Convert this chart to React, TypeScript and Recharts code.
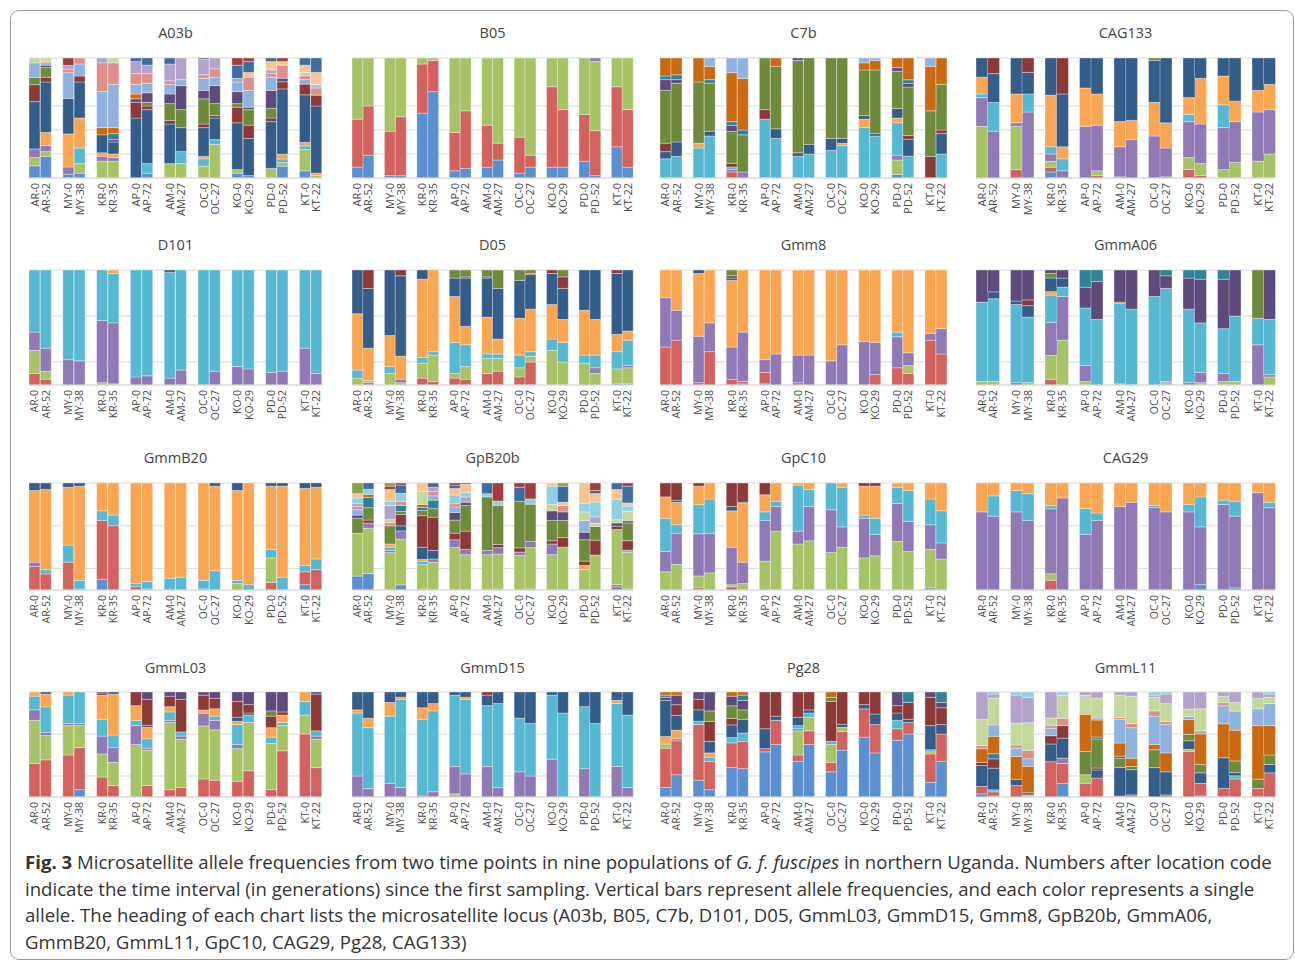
import React from "react";
import { BarChart, Bar, XAxis, YAxis, CartesianGrid } from "recharts";

// sample labels: location code + generations since first sampling
const POPULATIONS = [
  "AR-0", "AR-52", "MY-0", "MY-38", "KR-0", "KR-35", "AP-0", "AP-72", "AM-0",
  "AM-27", "OC-0", "OC-27", "KO-0", "KO-29", "PD-0", "PD-52", "KT-0", "KT-22",
];

// allele colours in stacking order (allele 1 at the bottom of each bar)
const ALLELE_COLORS = [
  "#5B8FCF", "#D2625D", "#A6C467", "#9079B4", "#57B8D1", "#F9A551",
  "#345E89", "#8C3A37", "#6E8A3D", "#5E4B7C", "#2F8298", "#C96A12",
  "#8FB2DE", "#DF8F8B", "#C4D89C", "#B3A2CC", "#8FD0E1", "#FBC391",
  "#3D6C9F", "#A23F3B", "#86A348",
];

// allele frequencies (%) per sample, one row per bar, columns = alleles
const A03b = [
  [10, 0, 7, 7, 0, 0, 39, 14, 6, 0, 0, 0, 12, 0, 4, 0, 0, 0, 0, 0],
  [18, 0, 4, 5, 0, 11, 42, 4, 8, 2, 0, 0, 2, 1, 3, 0, 0, 0, 0, 0],
  [3, 0, 0, 6, 0, 27, 29, 0, 0, 0, 0, 0, 21, 3, 0, 3, 0, 0, 0, 6],
  [4, 0, 8, 0, 13, 25, 30, 5, 0, 0, 0, 0, 10, 5, 0, 0, 0, 0, 0, 0],
  [0, 0, 14, 4, 0, 3, 15, 0, 0, 0, 0, 6, 30, 24, 0, 4, 0, 0, 0, 0],
  [0, 0, 14, 3, 0, 3, 10, 0, 0, 2, 5, 5, 36, 18, 4, 0, 0, 0, 0, 0],
  [0, 0, 0, 0, 0, 0, 50, 13, 0, 3, 0, 4, 8, 9, 0, 10, 0, 0, 3, 0],
  [4, 0, 0, 0, 8, 0, 45, 3, 3, 8, 0, 0, 8, 8, 0, 7, 0, 0, 6, 0],
  [0, 0, 12, 0, 0, 0, 33, 3, 14, 8, 0, 0, 8, 3, 0, 14, 0, 0, 5, 0],
  [0, 0, 12, 0, 10, 0, 20, 0, 15, 20, 0, 0, 5, 0, 0, 18, 0, 0, 0, 0],
  [0, 0, 10, 0, 6, 2, 24, 3, 21, 7, 0, 0, 10, 3, 0, 13, 0, 0, 1, 0],
  [0, 0, 28, 0, 4, 0, 18, 2, 10, 15, 0, 0, 7, 7, 0, 9, 0, 0, 0, 0],
  [4, 0, 3, 0, 0, 0, 39, 13, 3, 10, 0, 0, 8, 0, 0, 3, 0, 0, 11, 6],
  [2, 0, 0, 0, 0, 0, 31, 11, 13, 2, 0, 0, 14, 11, 0, 0, 0, 4, 9, 3],
  [0, 0, 8, 0, 0, 0, 39, 3, 8, 15, 0, 0, 11, 3, 0, 3, 0, 7, 3, 0],
  [10, 0, 3, 0, 3, 4, 55, 6, 0, 3, 0, 0, 0, 11, 0, 0, 0, 3, 0, 3],
  [6, 0, 18, 0, 3, 3, 40, 9, 0, 0, 0, 0, 4, 3, 3, 0, 0, 6, 6, 0],
  [0, 0, 2, 0, 0, 2, 56, 9, 0, 0, 0, 0, 0, 6, 0, 0, 3, 10, 12, 0],
];

const B05 = [
  [9, 40, 51, 0], [19, 41, 40, 0], [2, 37, 61, 0], [2, 49, 49, 0],
  [54, 41, 5, 0], [72, 26, 2, 0], [6, 32, 62, 0], [8, 48, 44, 0],
  [9, 35, 56, 0], [15, 14, 71, 0], [4, 30, 66, 0], [9, 10, 81, 0],
  [9, 67, 24, 0], [9, 48, 43, 0], [14, 39, 47, 0], [2, 37, 57, 3],
  [26, 50, 24, 0], [9, 48, 43, 0],
];

const C7b = [
  [0, 0, 0, 0, 16, 0, 6, 7, 44, 9, 3, 15, 0],
  [0, 0, 0, 0, 18, 0, 12, 0, 49, 3, 4, 14, 0],
  [0, 0, 0, 0, 25, 4, 0, 0, 51, 0, 0, 20, 0],
  [0, 0, 0, 0, 35, 0, 4, 0, 40, 0, 3, 11, 7],
  [0, 5, 0, 2, 2, 0, 0, 3, 26, 5, 3, 40, 12],
  [0, 0, 0, 5, 0, 0, 0, 0, 31, 0, 4, 43, 17],
  [0, 0, 0, 0, 49, 0, 0, 8, 43, 0, 0, 0, 0],
  [0, 0, 0, 0, 33, 0, 8, 0, 52, 0, 0, 7, 0],
  [0, 0, 0, 0, 18, 0, 3, 0, 77, 2, 0, 0, 0],
  [0, 0, 0, 0, 20, 0, 8, 0, 72, 0, 0, 0, 0],
  [0, 0, 0, 0, 23, 0, 10, 0, 67, 0, 0, 0, 0],
  [0, 0, 0, 0, 27, 2, 4, 0, 67, 0, 0, 0, 0],
  [0, 0, 0, 0, 42, 7, 3, 0, 38, 0, 0, 6, 4],
  [0, 0, 0, 0, 35, 0, 2, 0, 53, 0, 0, 8, 2],
  [3, 0, 12, 4, 27, 4, 8, 0, 31, 3, 0, 8, 0],
  [0, 0, 0, 0, 18, 0, 14, 3, 40, 3, 3, 18, 0],
  [0, 0, 0, 0, 0, 0, 0, 18, 38, 0, 0, 37, 7],
  [0, 0, 0, 0, 20, 0, 17, 3, 38, 0, 0, 22, 0],
];

const CAG133 = [
  [0, 0, 43, 24, 3, 14, 16, 0, 0], [0, 0, 0, 39, 24, 0, 24, 13, 0],
  [0, 7, 36, 3, 0, 24, 30, 0, 0], [0, 0, 0, 55, 15, 0, 18, 12, 0],
  [5, 4, 5, 6, 6, 43, 31, 0, 0], [0, 0, 0, 6, 10, 10, 44, 30, 0],
  [0, 0, 0, 43, 0, 32, 25, 0, 0], [0, 2, 4, 38, 0, 26, 30, 0, 0],
  [0, 1, 0, 25, 0, 21, 53, 0, 0], [0, 0, 0, 32, 0, 16, 52, 0, 0],
  [0, 0, 0, 35, 0, 28, 35, 0, 2], [0, 1, 0, 24, 0, 21, 54, 0, 0],
  [0, 7, 10, 30, 6, 14, 33, 0, 0], [0, 2, 10, 33, 0, 38, 17, 0, 0],
  [0, 0, 7, 35, 19, 24, 15, 0, 0], [0, 0, 13, 34, 0, 17, 36, 0, 0],
  [0, 0, 14, 41, 0, 18, 27, 0, 0], [0, 0, 20, 37, 0, 21, 22, 0, 0],
];

const D101 = [
  [0, 10, 20, 16, 54, 0, 0], [0, 5, 7, 20, 68, 0, 0], [0, 0, 0, 22, 78, 0, 0],
  [0, 0, 0, 21, 79, 0, 0], [0, 0, 2, 54, 44, 0, 0], [0, 0, 1, 53, 43, 3, 0],
  [0, 0, 0, 7, 93, 0, 0], [0, 0, 0, 8, 92, 0, 0], [0, 0, 0, 6, 92, 0, 2],
  [0, 0, 0, 13, 87, 0, 0], [0, 0, 0, 0, 100, 0, 0], [0, 0, 0, 12, 88, 0, 0],
  [0, 0, 0, 16, 84, 0, 0], [0, 0, 0, 14, 86, 0, 0], [0, 0, 0, 11, 89, 0, 0],
  [0, 0, 0, 12, 88, 0, 0], [0, 0, 0, 32, 68, 0, 0], [0, 0, 0, 10, 90, 0, 0],
];

const D05 = [
  [0, 0, 6, 0, 7, 49, 38, 0, 0], [0, 2, 2, 0, 0, 28, 52, 16, 0],
  [0, 0, 10, 0, 6, 27, 57, 0, 0], [0, 0, 2, 3, 0, 20, 70, 5, 0],
  [0, 6, 13, 0, 5, 68, 8, 0, 0], [0, 3, 23, 0, 3, 71, 0, 0, 0],
  [0, 6, 4, 0, 27, 40, 16, 0, 7], [0, 5, 11, 0, 19, 16, 42, 1, 6],
  [0, 10, 13, 0, 4, 32, 34, 1, 6], [0, 12, 11, 0, 4, 13, 44, 0, 16],
  [0, 7, 8, 0, 11, 32, 33, 0, 9], [0, 20, 5, 0, 4, 37, 30, 1, 3],
  [0, 0, 30, 0, 10, 30, 27, 3, 0], [0, 0, 20, 0, 17, 20, 27, 10, 6],
  [0, 0, 19, 0, 7, 39, 35, 0, 0], [0, 0, 10, 5, 11, 31, 43, 0, 0],
  [1, 0, 13, 0, 15, 15, 53, 3, 0], [1, 0, 14, 2, 22, 8, 53, 0, 0],
];

const Gmm8 = [
  [0, 33, 0, 43, 0, 24, 0, 0, 0], [0, 39, 0, 26, 0, 35, 0, 0, 0],
  [0, 2, 0, 40, 0, 54, 3, 0, 0], [0, 29, 0, 25, 0, 46, 0, 0, 0],
  [0, 5, 0, 28, 0, 58, 2, 2, 5], [1, 2, 0, 43, 0, 54, 0, 0, 0],
  [1, 10, 0, 11, 0, 78, 0, 0, 0], [0, 0, 0, 27, 0, 73, 0, 0, 0],
  [0, 2, 0, 24, 0, 74, 0, 0, 0], [0, 0, 0, 26, 0, 74, 0, 0, 0],
  [0, 0, 0, 21, 0, 79, 0, 0, 0], [0, 0, 0, 35, 0, 65, 0, 0, 0],
  [0, 0, 0, 38, 0, 62, 0, 0, 0], [0, 9, 0, 28, 0, 63, 0, 0, 0],
  [0, 15, 0, 27, 4, 54, 0, 0, 0], [0, 10, 7, 11, 0, 72, 0, 0, 0],
  [0, 39, 0, 6, 0, 55, 0, 0, 0], [0, 27, 0, 22, 0, 51, 0, 0, 0],
];

const GmmA06 = [
  [0, 0, 3, 0, 69, 0, 0, 0, 0, 28, 0], [0, 0, 3, 0, 72, 0, 6, 0, 0, 19, 0],
  [0, 0, 0, 2, 68, 0, 3, 0, 0, 27, 0], [0, 0, 2, 0, 57, 0, 10, 5, 0, 26, 0],
  [0, 5, 21, 29, 24, 3, 12, 0, 4, 3, 0], [0, 0, 39, 38, 8, 0, 8, 0, 0, 7, 0],
  [0, 0, 3, 14, 50, 0, 0, 0, 0, 18, 15], [0, 0, 0, 0, 57, 0, 0, 0, 0, 33, 10],
  [0, 0, 1, 0, 70, 0, 0, 0, 1, 28, 0], [0, 0, 0, 0, 66, 0, 0, 0, 0, 34, 0],
  [0, 0, 0, 0, 77, 0, 0, 0, 0, 23, 0], [0, 0, 2, 1, 81, 0, 0, 0, 0, 11, 5],
  [0, 0, 0, 2, 64, 0, 0, 0, 0, 27, 7], [0, 0, 2, 9, 43, 0, 0, 0, 0, 38, 8],
  [0, 0, 3, 7, 39, 0, 0, 0, 0, 43, 8], [0, 0, 3, 0, 57, 0, 0, 0, 0, 40, 0],
  [0, 0, 0, 35, 23, 0, 0, 0, 42, 0, 0], [0, 0, 7, 2, 48, 0, 0, 0, 0, 43, 0],
];

const GmmB20 = [
  [0, 22, 0, 4, 0, 67, 7], [0, 15, 0, 0, 4, 75, 6], [0, 26, 0, 0, 16, 54, 4],
  [0, 1, 0, 0, 8, 88, 3], [10, 55, 0, 0, 9, 26, 0], [0, 60, 0, 0, 10, 30, 0],
  [0, 3, 0, 0, 3, 94, 0], [0, 1, 0, 0, 7, 92, 0], [0, 0, 0, 0, 11, 89, 0],
  [0, 0, 0, 0, 12, 88, 0], [0, 1, 0, 0, 8, 91, 0], [0, 0, 0, 0, 18, 79, 3],
  [0, 0, 6, 0, 3, 84, 7], [0, 0, 0, 0, 5, 95, 0], [0, 7, 23, 0, 8, 59, 3],
  [0, 0, 0, 0, 12, 85, 3], [5, 12, 0, 0, 6, 72, 5], [0, 19, 0, 0, 10, 67, 4],
];

const GpB20b = [
  [13, 0, 40, 0, 0, 0, 0, 0, 14, 3, 0, 0, 5, 3, 0, 3, 5, 4, 0, 0, 10],
  [16, 0, 44, 5, 0, 0, 0, 3, 12, 0, 10, 3, 0, 0, 0, 0, 5, 0, 6, 0, 0],
  [0, 0, 35, 2, 3, 3, 0, 0, 17, 0, 0, 0, 0, 3, 3, 13, 4, 11, 0, 3, 3],
  [5, 0, 45, 8, 0, 0, 5, 11, 3, 0, 6, 0, 0, 4, 0, 0, 8, 0, 8, 2, 0],
  [1, 0, 24, 0, 3, 2, 12, 31, 5, 0, 3, 3, 0, 0, 13, 0, 0, 8, 0, 0, 0],
  [0, 0, 26, 3, 0, 0, 8, 31, 8, 0, 8, 0, 4, 4, 0, 4, 0, 0, 4, 0, 0],
  [0, 0, 39, 7, 0, 0, 0, 6, 12, 7, 0, 0, 5, 3, 0, 0, 8, 6, 3, 2, 0],
  [0, 0, 33, 5, 0, 0, 0, 17, 24, 3, 0, 0, 0, 0, 0, 5, 4, 8, 1, 0, 0],
  [0, 0, 33, 4, 0, 0, 0, 0, 50, 0, 0, 0, 0, 0, 0, 0, 3, 0, 10, 0, 0],
  [1, 0, 33, 6, 0, 0, 0, 3, 37, 0, 0, 0, 0, 0, 0, 0, 4, 0, 0, 17, 0],
  [0, 0, 32, 3, 0, 0, 0, 4, 43, 0, 0, 0, 0, 0, 0, 0, 0, 0, 13, 4, 0],
  [1, 0, 39, 6, 0, 0, 0, 0, 35, 0, 0, 0, 0, 0, 0, 0, 5, 0, 0, 15, 0],
  [0, 0, 33, 10, 0, 0, 0, 3, 19, 9, 0, 0, 0, 0, 6, 0, 17, 3, 0, 0, 0],
  [0, 0, 40, 0, 0, 0, 0, 9, 16, 8, 0, 0, 0, 6, 0, 0, 0, 3, 15, 0, 3],
  [0, 0, 19, 0, 0, 4, 0, 4, 20, 7, 0, 0, 11, 0, 8, 0, 8, 19, 0, 0, 0],
  [0, 0, 33, 0, 0, 0, 0, 14, 13, 0, 0, 0, 0, 0, 3, 6, 14, 8, 3, 7, 0],
  [3, 2, 51, 0, 0, 0, 0, 3, 0, 3, 0, 0, 0, 0, 3, 0, 19, 9, 6, 0, 0],
  [1, 0, 35, 0, 2, 0, 0, 9, 17, 2, 0, 0, 0, 0, 9, 0, 5, 3, 16, 3, 0],
];

const GpC10 = [
  [0, 0, 17, 19, 31, 20, 0, 13], [0, 0, 24, 29, 8, 21, 2, 16],
  [0, 2, 11, 39, 27, 17, 0, 3], [0, 0, 16, 37, 32, 15, 0, 0],
  [0, 3, 2, 35, 0, 34, 4, 22], [0, 0, 6, 20, 0, 55, 1, 18],
  [0, 0, 27, 38, 8, 16, 0, 11], [0, 0, 55, 23, 5, 17, 0, 0],
  [0, 0, 43, 12, 43, 2, 0, 0], [0, 0, 46, 32, 16, 6, 0, 0],
  [0, 0, 35, 40, 25, 0, 0, 0], [0, 0, 40, 19, 37, 4, 0, 0],
  [0, 0, 30, 37, 3, 27, 0, 3], [0, 0, 32, 20, 15, 30, 0, 3],
  [0, 0, 45, 35, 15, 4, 0, 0], [0, 0, 36, 28, 29, 7, 0, 0],
  [2, 0, 36, 23, 24, 15, 0, 0], [0, 0, 29, 15, 30, 26, 0, 0],
];

const CAG29 = [
  [0, 0, 0, 73, 0, 27], [0, 0, 0, 69, 19, 12], [0, 0, 0, 73, 20, 7],
  [0, 0, 0, 65, 25, 10], [0, 9, 6, 60, 3, 21], [0, 0, 0, 86, 0, 14],
  [0, 0, 0, 52, 24, 24], [0, 0, 0, 65, 7, 28], [0, 0, 0, 78, 0, 22],
  [0, 0, 0, 82, 0, 18], [0, 0, 0, 77, 2, 21], [0, 0, 0, 73, 0, 27],
  [0, 0, 0, 73, 7, 20], [5, 0, 0, 54, 28, 13], [0, 0, 0, 80, 4, 16],
  [2, 0, 0, 67, 14, 17], [0, 0, 0, 91, 0, 9], [0, 0, 0, 77, 5, 18],
];

const GmmL03 = [
  [0, 32, 41, 10, 13, 4, 0, 0, 0, 0], [0, 35, 23, 3, 24, 12, 2, 0, 0, 0],
  [0, 40, 28, 2, 27, 3, 0, 0, 0, 0], [7, 40, 21, 2, 30, 0, 0, 0, 0, 0],
  [0, 19, 22, 17, 16, 23, 0, 2, 0, 1], [0, 11, 22, 14, 12, 39, 2, 0, 0, 0],
  [0, 0, 50, 18, 5, 14, 0, 13, 0, 0], [0, 11, 34, 2, 9, 11, 2, 25, 0, 7],
  [0, 7, 64, 2, 8, 5, 0, 10, 0, 4], [0, 9, 46, 3, 4, 0, 0, 31, 0, 7],
  [0, 17, 50, 12, 0, 3, 0, 14, 0, 3], [0, 16, 48, 9, 4, 7, 0, 10, 0, 6],
  [0, 15, 31, 4, 19, 3, 4, 15, 0, 9], [0, 25, 46, 0, 7, 0, 2, 8, 0, 12],
  [0, 7, 44, 0, 6, 9, 0, 11, 5, 18], [0, 44, 24, 0, 3, 7, 0, 3, 0, 19],
  [0, 60, 18, 0, 13, 9, 0, 0, 0, 0], [0, 28, 27, 3, 5, 0, 0, 35, 0, 2],
];

const GmmD15 = [
  [0, 0, 0, 20, 60, 3, 17, 0], [0, 0, 0, 8, 58, 9, 25, 0],
  [0, 0, 0, 13, 64, 13, 10, 0], [0, 0, 0, 9, 84, 2, 5, 0],
  [0, 0, 0, 1, 73, 11, 15, 0], [0, 0, 0, 5, 77, 7, 11, 0],
  [0, 0, 3, 26, 68, 0, 3, 0], [0, 0, 0, 22, 71, 2, 5, 0],
  [0, 0, 0, 29, 58, 0, 10, 3], [0, 0, 0, 9, 80, 0, 11, 0],
  [0, 0, 0, 24, 51, 0, 25, 0], [0, 0, 0, 20, 50, 0, 30, 0],
  [0, 0, 0, 36, 61, 0, 3, 0], [0, 0, 0, 0, 80, 0, 20, 0],
  [0, 0, 0, 27, 59, 0, 14, 0], [0, 0, 0, 0, 70, 0, 30, 0],
  [0, 0, 0, 29, 60, 3, 8, 0], [0, 0, 0, 9, 69, 0, 22, 0],
];

const Pg28 = [
  [9, 37, 4, 0, 0, 7, 34, 0, 0, 3, 2, 3],
  [21, 32, 0, 2, 0, 8, 14, 10, 0, 9, 0, 3],
  [16, 53, 0, 0, 3, 0, 11, 10, 0, 7, 0, 0],
  [7, 27, 0, 0, 4, 4, 11, 19, 10, 18, 0, 0],
  [28, 23, 0, 0, 5, 0, 12, 6, 12, 9, 0, 4],
  [27, 26, 0, 0, 8, 0, 13, 0, 9, 9, 5, 3],
  [43, 3, 0, 0, 0, 0, 19, 35, 0, 0, 0, 0],
  [50, 23, 0, 0, 0, 0, 4, 23, 0, 0, 0, 0],
  [34, 6, 23, 2, 3, 0, 8, 24, 0, 0, 0, 0],
  [50, 13, 13, 0, 4, 0, 3, 17, 0, 0, 0, 0],
  [24, 9, 17, 0, 3, 0, 0, 38, 4, 0, 0, 5],
  [45, 18, 4, 0, 0, 0, 3, 31, 0, 0, 0, 0],
  [57, 27, 0, 0, 0, 0, 4, 12, 0, 0, 0, 0],
  [42, 27, 0, 0, 0, 0, 10, 21, 0, 0, 0, 0],
  [54, 11, 0, 0, 8, 0, 7, 7, 0, 13, 0, 0],
  [60, 11, 0, 0, 0, 0, 3, 16, 0, 0, 10, 0],
  [14, 27, 2, 0, 2, 0, 23, 27, 0, 5, 0, 0],
  [34, 26, 0, 0, 0, 0, 9, 16, 0, 5, 10, 0],
];

const GmmL11 = [
  [3, 7, 0, 0, 0, 0, 20, 3, 0, 0, 0, 13, 0, 3, 25, 26, 0],
  [1, 4, 0, 0, 2, 0, 21, 9, 0, 0, 5, 17, 11, 0, 26, 4, 2],
  [0, 11, 0, 0, 0, 0, 6, 0, 0, 0, 0, 22, 8, 3, 21, 27, 3],
  [0, 0, 0, 0, 0, 2, 2, 0, 0, 0, 0, 25, 7, 8, 26, 24, 5],
  [0, 34, 0, 0, 0, 0, 17, 8, 0, 0, 0, 0, 7, 3, 7, 25, 0],
  [13, 19, 0, 5, 0, 0, 19, 12, 0, 0, 0, 0, 0, 7, 22, 0, 3],
  [0, 13, 8, 0, 0, 0, 0, 0, 22, 0, 0, 35, 0, 0, 18, 3, 0],
  [0, 19, 0, 0, 0, 0, 8, 2, 29, 0, 2, 17, 2, 0, 20, 6, 0],
  [0, 0, 0, 1, 0, 0, 28, 0, 9, 2, 0, 13, 23, 2, 22, 3, 0],
  [0, 0, 0, 2, 0, 0, 24, 0, 3, 0, 0, 8, 29, 4, 26, 4, 0],
  [0, 0, 0, 0, 0, 0, 28, 0, 17, 0, 0, 5, 27, 5, 13, 2, 3],
  [0, 2, 0, 0, 0, 0, 22, 0, 0, 0, 0, 18, 27, 3, 17, 9, 2],
  [0, 43, 2, 0, 0, 0, 8, 0, 6, 0, 0, 14, 3, 0, 7, 16, 0],
  [1, 12, 0, 0, 0, 0, 10, 0, 8, 0, 0, 29, 3, 0, 21, 16, 0],
  [0, 8, 0, 0, 0, 0, 29, 0, 0, 0, 0, 32, 17, 3, 6, 4, 0],
  [0, 17, 0, 0, 3, 0, 3, 0, 11, 0, 0, 29, 18, 0, 8, 10, 0],
  [0, 8, 0, 0, 0, 0, 0, 0, 9, 0, 0, 51, 16, 0, 10, 6, 0],
  [0, 23, 0, 0, 0, 0, 8, 0, 9, 0, 0, 28, 21, 0, 6, 3, 2],
];

const LOCI_GRID: [string, number[][]][][] = [
  [["A03b", A03b], ["B05", B05], ["C7b", C7b], ["CAG133", CAG133]],
  [["D101", D101], ["D05", D05], ["Gmm8", Gmm8], ["GmmA06", GmmA06]],
  [["GmmB20", GmmB20], ["GpB20b", GpB20b], ["GpC10", GpC10], ["CAG29", CAG29]],
  [["GmmL03", GmmL03], ["GmmD15", GmmD15], ["Pg28", Pg28], ["GmmL11", GmmL11]],
];

// panel layout (plot area boxes)
const COL_LEFT = [29, 352, 660, 976];
const COL_WIDTH = [293, 281, 287, 299];
const ROW_PLOT_TOP = [58, 270, 483, 692];
const ROW_PLOT_H = [120, 115, 107, 105];
const ROW_TITLE_Y = [33, 245, 458, 668];
const ROW_LABEL_SIZE = [11, 10.5, 10.5, 10.5];
const AXIS_H = 56;

const FONT = "'Open Sans', 'DejaVu Sans', sans-serif";

// one row per bar, plus an empty slot after each population pair
function buildRows(bars: number[][]) {
  const rows: Record<string, any>[] = [];
  bars.forEach((bar, i) => {
    const row: Record<string, any> = { label: POPULATIONS[i] };
    bar.forEach((v, k) => {
      row[`a${k}`] = v;
    });
    rows.push(row);
    if (i % 2 === 1 && i < bars.length - 1) rows.push({ label: "" });
  });
  return rows;
}

function PopTick({ x, y, payload, size }: any) {
  if (!payload.value) return null;
  return (
    <text
      x={x}
      y={y}
      transform={`rotate(-90, ${x}, ${y})`}
      dx={3}
      dy={size * 0.36}
      textAnchor="end"
      fontSize={size}
      fontFamily={FONT}
      fill="#4a4a4a"
    >
      {payload.value}
    </text>
  );
}

function LocusPanel({ title, bars, row, col }: { title: string; bars: number[][]; row: number; col: number }) {
  const rows = buildRows(bars);
  const width = COL_WIDTH[col];
  const plotH = ROW_PLOT_H[row];
  const nAlleles = bars[0].length;
  return (
    <>
      <div
        style={{
          position: "absolute",
          left: COL_LEFT[col],
          width,
          top: ROW_TITLE_Y[row] - 10,
          height: 20,
          lineHeight: "20px",
          textAlign: "center",
          fontFamily: FONT,
          fontSize: 14.5,
          color: "#444",
        }}
      >
        {title}
      </div>
      <div style={{ position: "absolute", left: COL_LEFT[col] - 6, top: ROW_PLOT_TOP[row] - 1 }}>
        <BarChart
          width={width + 12}
          height={plotH + 1 + AXIS_H}
          data={rows}
          stackOffset="expand"
          barCategoryGap={0}
          barGap={0}
          margin={{ top: 1, right: 6, bottom: 0, left: 6 }}
          style={{ overflow: "visible" }}
        >
          <CartesianGrid vertical={false} stroke="#D9D9D9" />
          <XAxis
            dataKey="label"
            interval={0}
            tickLine={false}
            axisLine={{ stroke: "#D9D9D9" }}
            height={AXIS_H}
            tick={<PopTick size={ROW_LABEL_SIZE[row]} />}
          />
          <YAxis hide domain={[0, 1]} ticks={[0, 0.2, 0.4, 0.6, 0.8, 1]} />
          {Array.from({ length: nAlleles }, (_, k) => (
            <Bar
              key={k}
              dataKey={`a${k}`}
              stackId="freq"
              fill={ALLELE_COLORS[k]}
              stroke="#ffffff"
              strokeOpacity={0.55}
              strokeWidth={0.6}
              isAnimationActive={false}
            />
          ))}
        </BarChart>
      </div>
    </>
  );
}

export default function App() {
  return (
    <div
      style={{
        position: "absolute",
        left: 0,
        top: 0,
        width: 1295,
        height: 962,
        background: "#fff",
        overflow: "hidden",
      }}
    >
      <div
        style={{
          position: "absolute",
          left: 10,
          top: 10,
          width: 1282,
          height: 948,
          border: "1px solid #9a9a9a",
          borderRadius: 9,
        }}
      />
      {LOCI_GRID.map((panels, r) =>
        panels.map(([title, bars], c) => (
          <LocusPanel key={title} title={title} bars={bars} row={r} col={c} />
        ))
      )}
      <div
        style={{
          position: "absolute",
          left: 25,
          top: 849,
          fontFamily: FONT,
          fontSize: 18.6,
          lineHeight: "26.5px",
          color: "#333",
          whiteSpace: "nowrap",
        }}
      >
        <div>
          <b>Fig. 3</b> Microsatellite allele frequencies from two time points in nine populations of{" "}
          <i>G. f. fuscipes</i> in northern Uganda. Numbers after location code
        </div>
        <div>
          indicate the time interval (in generations) since the first sampling. Vertical bars represent allele
          frequencies, and each color represents a single
        </div>
        <div>
          allele. The heading of each chart lists the microsatellite locus (A03b, B05, C7b, D101, D05, GmmL03,
          GmmD15, Gmm8, GpB20b, GmmA06,
        </div>
        <div>GmmB20, GmmL11, GpC10, CAG29, Pg28, CAG133)</div>
      </div>
    </div>
  );
}
